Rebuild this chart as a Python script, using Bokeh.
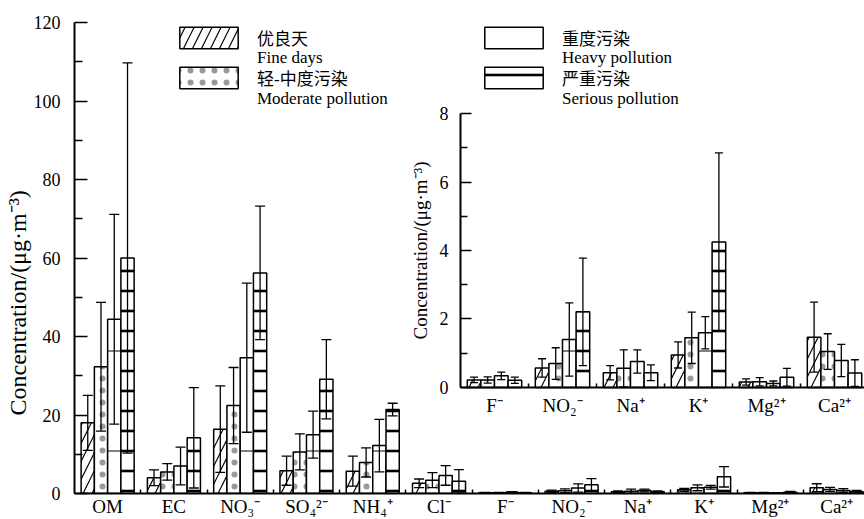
import numpy as np
from bokeh.plotting import figure
from bokeh.models import (ColumnDataSource, Range1d, LinearAxis, FixedTicker,
                          Whisker, TeeHead, Legend, LegendItem, Title)
from bokeh.embed import file_html
from bokeh.resources import INLINE

# ---------------- data ----------------
main_labels = ["OM", "EC", "NO₃⁻", "SO₄²⁻", "NH₄⁺", "Cl⁻",
               "F⁻", "NO₂⁻", "Na⁺", "K⁺", "Mg²⁺", "Ca²⁺"]
inset_labels = ["F⁻", "NO₂⁻", "Na⁺", "K⁺", "Mg²⁺", "Ca²⁺"]

# OM, EC, NO3-, SO4 2-, NH4+, Cl-
fine_mean = [18.0, 4.0, 16.4, 5.8, 5.7, 2.6]
fine_sd = [7.0, 2.0, 11.0, 3.7, 3.8, 1.1]
mod_mean = [32.3, 5.5, 22.4, 10.6, 7.9, 3.4]
mod_sd = [16.4, 2.1, 9.7, 4.6, 3.7, 1.9]
heavy_mean = [44.4, 7.0, 34.6, 15.0, 12.2, 4.6]
heavy_sd = [26.7, 4.8, 19.0, 6.0, 6.7, 2.5]
serious_mean = [60.0, 14.2, 56.2, 29.1, 21.4, 3.1]
serious_sd = [49.7, 12.8, 17.0, 10.1, 1.6, 3.0]

# F-, NO2-, Na+, K+, Mg2+, Ca2+
ion_fine_mean = [0.22, 0.57, 0.43, 0.95, 0.16, 1.47]
ion_fine_sd = [0.08, 0.27, 0.21, 0.38, 0.09, 1.02]
ion_mod_mean = [0.22, 0.70, 0.56, 1.45, 0.17, 1.05]
ion_mod_sd = [0.09, 0.46, 0.54, 0.75, 0.12, 0.52]
ion_heavy_mean = [0.34, 1.40, 0.76, 1.60, 0.12, 0.79]
ion_heavy_sd = [0.11, 1.07, 0.34, 0.47, 0.07, 0.47]
ion_serious_mean = [0.21, 2.21, 0.43, 4.25, 0.30, 0.42]
ion_serious_sd = [0.09, 1.57, 0.23, 2.60, 0.26, 0.39]

group_names_cn = ["优良天", "轻-中度污染", "重度污染", "严重污染"]
group_names_en = ["Fine days", "Moderate pollution", "Heavy pollution", "Serious pollution"]
y_title = "Concentration/(μg·m⁻³)"

major_means = [fine_mean, mod_mean, heavy_mean, serious_mean]
major_sds = [fine_sd, mod_sd, heavy_sd, serious_sd]
ion_means = [ion_fine_mean, ion_mod_mean, ion_heavy_mean, ion_serious_mean]
ion_sds = [ion_fine_sd, ion_mod_sd, ion_heavy_sd, ion_serious_sd]

# ---------------- styles ----------------
hatch_styles = [
    dict(hatch_pattern="/", hatch_scale=18, hatch_weight=1.2),
    dict(hatch_pattern=".", hatch_scale=12, hatch_alpha=0.4),
    dict(hatch_pattern="-", hatch_scale=100, hatch_weight=1.0),
    dict(hatch_pattern="-", hatch_scale=20, hatch_weight=2.6),
]
offsets = [-0.3, -0.1, 0.1, 0.3]
SERIF = "Liberation Serif, Noto Sans CJK SC"

p = figure(width=864, height=519, output_backend="svg", toolbar_location=None,
           x_range=Range1d(0.5, 12.42), y_range=Range1d(0, 120),
           min_border_left=74, min_border_right=0, min_border_top=22,
           min_border_bottom=0)
p.outline_line_color = None
p.grid.visible = False
p.background_fill_color = "white"

# inset ranges (mapped onto a sub-area of the frame)
p.extra_x_ranges = {"ix": Range1d(-5.176, 6.441)}
p.extra_y_ranges = {"iy": Range1d(-3.095, 10.657)}

# main axes
yax = p.yaxis[0]
yax.ticker = FixedTicker(ticks=list(range(0, 121, 20)), minor_ticks=list(range(10, 120, 20)))
xax = p.xaxis[0]
xax.ticker = FixedTicker(ticks=list(range(1, 13)), minor_ticks=[i + 0.5 for i in range(1, 12)])
xax.major_label_overrides = {i + 1: lab for i, lab in enumerate(main_labels)}

for ax in (yax, xax):
    ax.axis_line_width = 2
    ax.axis_line_color = "black"
    ax.major_tick_line_width = 1.5
    ax.minor_tick_line_width = 1.5
    ax.major_label_text_font = SERIF
    ax.major_label_text_color = "black"

yax.major_tick_in = 13
yax.major_tick_out = 0
yax.minor_tick_in = 8
yax.minor_tick_out = 0
yax.major_label_standoff = 14
yax.major_label_text_font_size = "18px"

xax.major_tick_in = 0
xax.major_tick_out = 0
xax.minor_tick_in = 4
xax.minor_tick_out = 0
xax.major_label_standoff = 2
xax.major_label_text_font_size = "19px"

# main y title (starts a little above the bottom of the axis, as in the original)
p.add_layout(Title(text=y_title, align="left", offset=78, standoff=0,
                   text_font=SERIF, text_font_size="24px", text_font_style="normal",
                   text_color="black"), "left")

# inset axes
iyax = LinearAxis(x_range_name="ix", y_range_name="iy", fixed_location=0.5, bounds=(0, 8),
                  ticker=FixedTicker(ticks=[0, 2, 4, 6, 8], minor_ticks=[1, 3, 5, 7]),
                  axis_label=y_title)
ixax = LinearAxis(x_range_name="ix", y_range_name="iy", fixed_location=0, bounds=(0.5, 6.441),
                  ticker=FixedTicker(ticks=list(range(1, 7)), minor_ticks=[i + 0.5 for i in range(1, 6)]))
ixax.major_label_overrides = {i + 1: lab for i, lab in enumerate(inset_labels)}
for ax in (iyax, ixax):
    ax.axis_line_width = 2
    ax.axis_line_color = "black"
    ax.major_tick_line_width = 1.5
    ax.minor_tick_line_width = 1.5
    ax.major_label_text_font = SERIF
    ax.major_label_text_color = "black"
    ax.axis_label_text_font = SERIF
    ax.axis_label_text_font_style = "normal"
    ax.axis_label_text_color = "black"
iyax.major_tick_in = 11
iyax.major_tick_out = 0
iyax.minor_tick_in = 7
iyax.minor_tick_out = 0
iyax.major_label_standoff = 12
iyax.major_label_text_font_size = "18px"
iyax.axis_label_text_font_size = "19px"
iyax.axis_label_standoff = 6
ixax.major_tick_in = 0
ixax.major_tick_out = 0
ixax.minor_tick_in = 4
ixax.minor_tick_out = 0
ixax.major_label_standoff = 8
ixax.major_label_text_font_size = "19px"
p.add_layout(iyax, "left")
p.add_layout(ixax, "below")

# ---------------- bars ----------------
main_x = np.arange(1, len(main_labels) + 1, dtype=float)
inset_x = np.arange(1, len(inset_labels) + 1, dtype=float)
renderers = []
for k in range(4):
    mean_all = np.array(major_means[k] + ion_means[k])
    sd_all = np.array(major_sds[k] + ion_sds[k])
    src = ColumnDataSource(dict(x=main_x + offsets[k], top=mean_all,
                                lo=mean_all - sd_all, hi=mean_all + sd_all))
    r = p.vbar(x="x", top="top", width=0.2, source=src, fill_color="white",
               line_color="black", line_width=1.5, hatch_color="black", **hatch_styles[k])
    renderers.append(r)
    p.add_layout(Whisker(source=src, base="x", upper="hi", lower="lo", level="annotation",
                         line_color="black", line_width=1.3,
                         upper_head=TeeHead(size=10, line_width=1.3),
                         lower_head=TeeHead(size=10, line_width=1.3)))

    im = np.array(ion_means[k])
    isd = np.array(ion_sds[k])
    isrc = ColumnDataSource(dict(x=inset_x + offsets[k], top=im, lo=im - isd, hi=im + isd))
    p.vbar(x="x", top="top", width=0.2, source=isrc, fill_color="white",
           line_color="black", line_width=1.5, hatch_color="black",
           x_range_name="ix", y_range_name="iy", **hatch_styles[k])
    p.add_layout(Whisker(source=isrc, base="x", upper="hi", lower="lo", level="annotation",
                         x_range_name="ix", y_range_name="iy",
                         line_color="black", line_width=1.3,
                         upper_head=TeeHead(size=8, line_width=1.3),
                         lower_head=TeeHead(size=8, line_width=1.3)))

# invisible renderer used for the English second line of each legend entry
blank = p.vbar(x=[], top=[], width=0.2, fill_alpha=0, line_alpha=0)

# ---------------- legends ----------------
def add_legend(label, renderer, loc, gh):
    lg = Legend(items=[LegendItem(label=label, renderers=[renderer])], location=loc,
                glyph_width=73, glyph_height=gh, label_standoff=12,
                label_text_font=SERIF, label_text_font_size="17px", label_text_color="black",
                spacing=0, padding=0, margin=0,
                border_line_color=None, background_fill_alpha=0)
    p.add_layout(lg, "center")

col_x = [98, 403]
for c in range(2):
    g1, g2 = 2 * c, 2 * c + 1
    add_legend(group_names_cn[g1], renderers[g1], (col_x[c], 442), 27)
    add_legend(group_names_en[g1], blank, (col_x[c], 425), 20)
    add_legend(group_names_cn[g2], renderers[g2], (col_x[c], 402), 27)
    add_legend(group_names_en[g2], blank, (col_x[c], 384), 20)

open("out.html", "w").write(file_html(p, INLINE))
